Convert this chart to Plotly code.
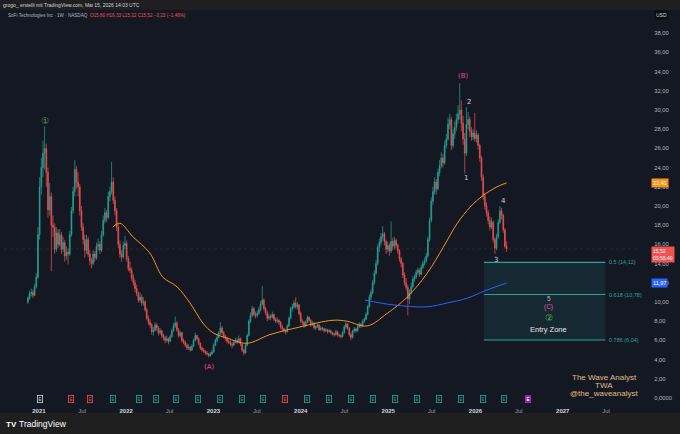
import pandas as pd
import plotly.graph_objects as go

# SOFI weekly candles, first bar = week of 2020-11-16
first_week = '2020-11-16'

opens = [
    10.0, 10.4, 10.9, 11.0, 10.7, 11.6, 12.6, 17.0, 22.0, 24.0,
    25.5, 26.0, 23.5, 19.6, 21.0, 18.0, 17.8, 15.5, 17.2, 16.0,
    17.0, 15.5, 16.2, 14.8, 15.2, 15.0, 17.0, 19.5, 21.5, 23.8,
    22.5, 22.0, 19.5, 17.8, 16.5, 15.4, 16.5, 15.0, 14.3, 14.0,
    15.0, 14.6, 15.8, 16.0, 15.4, 17.0, 18.5, 19.3, 18.8, 21.0,
    21.5, 22.5, 20.6, 19.5, 17.8, 16.0, 15.0, 14.7, 15.9, 16.1,
    14.5, 13.5, 13.3, 12.5, 12.0, 11.4, 10.9, 10.2, 10.5, 9.9,
    10.0, 9.2, 8.3, 7.9, 7.6, 6.9, 7.1, 7.6, 7.3, 6.8,
    7.0, 6.5, 6.3, 6.0, 6.2, 5.9, 6.4, 7.0, 7.5, 7.8,
    7.1, 6.5, 6.8, 6.0, 5.8, 5.5, 5.2, 5.3, 5.0, 5.4,
    6.0, 6.5, 6.2, 5.7, 5.2, 5.0, 4.9, 4.7, 4.6, 4.4,
    4.6, 4.8, 5.5, 6.0, 6.3, 6.8, 7.3, 6.8, 6.4, 6.2,
    5.9, 5.8, 5.6, 5.5, 5.8, 6.0, 5.8, 6.2, 5.6, 5.0,
    4.7, 5.5, 6.5, 8.0, 8.6, 9.3, 8.7, 8.6, 8.8, 9.2,
    9.8, 10.2, 9.3, 8.9, 8.3, 8.5, 8.4, 8.7, 8.2, 8.0,
    8.1, 7.9, 7.4, 7.2, 7.0, 6.9, 7.5, 8.3, 9.3, 9.5,
    9.9, 9.5, 9.7, 8.8, 8.0, 7.9, 7.5, 7.9, 8.4, 8.1,
    7.6, 7.8, 7.3, 7.4, 7.6, 7.1, 7.3, 7.2, 7.0, 7.1,
    6.9, 7.0, 6.8, 6.7, 6.6, 6.9, 6.6, 6.5, 6.4, 6.8,
    7.4, 7.7, 7.3, 6.6, 6.3, 7.0, 7.2, 7.0, 7.4, 7.7,
    7.5, 8.0, 8.2, 8.7, 9.5, 10.5, 11.0, 12.0, 13.0, 14.0,
    15.7, 16.2, 16.8, 17.1, 16.3, 15.5, 15.9, 15.3, 16.3, 15.8,
    16.4, 15.9, 15.3, 14.5, 14.0, 12.8, 12.0, 11.5, 10.3, 11.0,
    11.6, 12.4, 12.6, 13.1, 13.3, 12.9, 13.6, 14.0, 14.3, 14.8,
    16.5, 18.5, 20.5, 21.5, 22.5, 21.8, 23.5, 24.2, 25.0, 24.5,
    26.3, 27.0, 28.5, 29.0, 26.3, 27.5, 28.2, 29.0, 29.6, 30.0,
    28.6, 27.0, 25.5, 28.5, 29.0, 27.8, 27.2, 27.6, 27.0, 27.4,
    26.3, 25.0, 23.0, 21.0, 20.0, 19.3, 18.5, 17.8, 18.3, 16.5,
    15.6, 16.8, 18.3, 19.5, 19.0, 17.5, 15.80,
]
highs = [
    10.6, 11.2, 11.4, 11.3, 11.9, 13.0, 17.8, 23.0, 25.0, 26.8,
    28.3, 26.5, 24.0, 22.4, 21.4, 19.0, 18.2, 17.8, 17.6, 17.6,
    17.3, 16.8, 16.5, 15.8, 15.6, 17.4, 19.9, 22.0, 24.8, 24.2,
    23.5, 22.3, 20.0, 18.2, 17.0, 17.0, 16.8, 15.4, 14.6, 15.4,
    15.3, 16.2, 16.6, 16.3, 17.4, 19.0, 19.8, 19.6, 21.5, 22.0,
    24.6, 23.0, 21.0, 19.8, 18.2, 16.4, 15.4, 16.3, 16.9, 16.4,
    14.8, 14.2, 13.6, 12.9, 12.3, 11.8, 11.1, 11.0, 10.8, 10.5,
    10.2, 9.4, 8.6, 8.2, 7.8, 7.4, 7.9, 7.8, 7.5, 7.3,
    7.1, 6.7, 6.5, 6.5, 6.3, 6.6, 7.2, 7.8, 8.5, 8.0,
    7.3, 7.0, 6.9, 6.2, 6.0, 5.7, 5.6, 5.4, 5.6, 6.2,
    6.8, 6.6, 6.3, 5.8, 5.4, 5.2, 5.0, 4.9, 4.7, 4.8,
    5.0, 5.7, 6.2, 6.6, 7.0, 7.9, 7.5, 7.0, 6.6, 6.4,
    6.1, 6.0, 5.8, 6.0, 6.3, 6.2, 6.5, 6.3, 5.7, 5.1,
    5.7, 6.7, 8.2, 8.9, 9.6, 9.5, 9.0, 9.1, 9.5, 10.1,
    11.7, 10.4, 9.5, 9.1, 8.8, 8.7, 9.0, 8.8, 8.4, 8.4,
    8.2, 8.0, 7.6, 7.3, 7.2, 7.7, 8.5, 9.5, 9.8, 10.2,
    10.5, 10.0, 9.8, 9.0, 8.2, 8.0, 8.1, 8.6, 8.5, 8.2,
    8.0, 7.9, 7.6, 7.8, 7.7, 7.5, 7.4, 7.3, 7.3, 7.2,
    7.2, 7.1, 6.9, 6.8, 7.1, 7.0, 6.7, 6.6, 7.0, 7.6,
    7.9, 7.8, 7.4, 6.8, 7.1, 7.4, 7.3, 7.6, 7.9, 7.8,
    8.2, 8.4, 8.9, 9.7, 10.8, 11.3, 12.3, 13.3, 14.4, 16.0,
    16.6, 17.2, 17.9, 17.3, 16.5, 16.3, 16.1, 18.4, 16.7, 16.8,
    16.6, 16.1, 15.5, 14.7, 14.2, 13.1, 12.5, 11.8, 11.3, 12.0,
    12.7, 12.9, 13.4, 13.6, 13.5, 13.9, 14.3, 14.6, 15.1, 16.8,
    18.8, 20.9, 22.0, 23.0, 22.8, 23.9, 24.8, 25.6, 25.4, 26.8,
    27.5, 29.2, 29.6, 29.3, 28.0, 28.8, 29.6, 30.5, 32.8, 31.0,
    29.4, 27.6, 30.3, 29.8, 29.3, 28.2, 28.0, 29.7, 27.9, 27.6,
    26.5, 25.2, 23.3, 21.4, 20.4, 19.6, 18.9, 18.8, 18.5, 16.7,
    17.1, 18.6, 20.0, 19.8, 19.2, 17.7, 16.33,
]
lows = [
    9.8, 10.2, 10.6, 10.4, 10.6, 11.4, 12.4, 16.5, 21.2, 23.0,
    23.8, 22.0, 18.8, 19.0, 13.2, 16.8, 15.0, 15.2, 15.6, 15.8,
    15.0, 15.2, 14.2, 14.4, 13.9, 14.8, 16.8, 19.2, 21.0, 21.8,
    21.0, 19.0, 17.4, 16.0, 14.6, 15.0, 14.7, 13.8, 13.5, 13.8,
    14.2, 14.4, 15.4, 15.0, 15.2, 16.8, 18.2, 18.3, 18.6, 20.5,
    21.2, 20.2, 19.0, 17.4, 15.6, 14.6, 14.2, 14.5, 15.5, 14.2,
    13.2, 13.0, 12.2, 11.7, 11.0, 10.6, 9.9, 10.0, 9.6, 9.6,
    9.0, 8.1, 7.6, 7.3, 6.6, 6.5, 6.9, 7.0, 6.5, 6.6,
    6.2, 6.0, 5.7, 5.8, 5.6, 5.8, 6.3, 6.9, 7.3, 6.9,
    6.3, 6.3, 5.8, 5.6, 5.3, 5.0, 5.0, 4.8, 4.9, 5.3,
    5.9, 6.0, 5.5, 5.0, 4.8, 4.7, 4.5, 4.4, 4.24, 4.3,
    4.5, 4.7, 5.4, 5.8, 6.2, 6.6, 6.6, 6.2, 6.0, 5.7,
    5.6, 5.4, 5.2, 5.4, 5.7, 5.6, 5.7, 5.4, 4.8, 4.45,
    4.6, 5.4, 6.4, 7.8, 8.4, 8.5, 8.3, 8.4, 8.7, 9.0,
    9.6, 9.1, 8.6, 8.0, 8.1, 8.1, 8.3, 8.0, 7.8, 7.8,
    7.6, 7.2, 7.0, 6.8, 6.6, 6.8, 7.4, 8.2, 9.0, 9.3,
    9.3, 9.2, 8.6, 7.8, 7.6, 7.3, 7.4, 7.8, 7.9, 7.4,
    7.5, 7.1, 7.1, 7.3, 7.0, 7.0, 7.0, 6.8, 6.9, 6.7,
    6.8, 6.6, 6.5, 6.4, 6.5, 6.4, 6.3, 6.2, 6.3, 6.7,
    7.2, 7.1, 6.4, 6.0, 6.2, 6.8, 6.8, 6.9, 7.3, 7.3,
    7.4, 7.8, 8.1, 8.6, 9.4, 10.2, 10.8, 11.8, 12.8, 13.8,
    15.2, 15.9, 16.4, 15.9, 15.0, 15.2, 14.8, 15.1, 15.4, 15.5,
    15.6, 15.0, 14.2, 13.6, 12.5, 11.7, 11.2, 8.6, 9.8, 10.8,
    11.4, 12.1, 12.4, 12.8, 12.6, 12.8, 13.4, 13.8, 14.1, 14.6,
    16.3, 18.3, 20.1, 21.2, 21.2, 21.6, 23.1, 23.9, 24.0, 24.3,
    26.0, 26.8, 28.0, 25.8, 26.0, 27.0, 27.8, 28.6, 29.0, 27.8,
    26.4, 23.4, 25.2, 28.0, 27.2, 26.8, 26.9, 26.7, 26.6, 25.9,
    24.6, 22.6, 20.6, 19.6, 18.9, 18.1, 17.4, 17.6, 16.2, 15.0,
    15.4, 16.6, 18.1, 18.6, 17.2, 15.6, 15.22,
]
closes = [
    10.4, 10.9, 11.0, 10.7, 11.6, 12.6, 17.0, 22.0, 24.0, 25.5,
    26.0, 23.5, 19.6, 21.0, 18.0, 17.8, 15.5, 17.2, 16.0, 17.0,
    15.5, 16.2, 14.8, 15.2, 15.0, 17.0, 19.5, 21.5, 23.8, 22.5,
    22.0, 19.5, 17.8, 16.5, 15.4, 16.5, 15.0, 14.3, 14.0, 15.0,
    14.6, 15.8, 16.0, 15.4, 17.0, 18.5, 19.3, 18.8, 21.0, 21.5,
    22.5, 20.6, 19.5, 17.8, 16.0, 15.0, 14.7, 15.9, 16.1, 14.5,
    13.5, 13.3, 12.5, 12.0, 11.4, 10.9, 10.2, 10.5, 9.9, 10.0,
    9.2, 8.3, 7.9, 7.6, 6.9, 7.1, 7.6, 7.3, 6.8, 7.0,
    6.5, 6.3, 6.0, 6.2, 5.9, 6.4, 7.0, 7.5, 7.8, 7.1,
    6.5, 6.8, 6.0, 5.8, 5.5, 5.2, 5.3, 5.0, 5.4, 6.0,
    6.5, 6.2, 5.7, 5.2, 5.0, 4.9, 4.7, 4.6, 4.4, 4.6,
    4.8, 5.5, 6.0, 6.3, 6.8, 7.3, 6.8, 6.4, 6.2, 5.9,
    5.8, 5.6, 5.5, 5.8, 6.0, 5.8, 6.2, 5.6, 5.0, 4.7,
    5.5, 6.5, 8.0, 8.6, 9.3, 8.7, 8.6, 8.8, 9.2, 9.8,
    10.2, 9.3, 8.9, 8.3, 8.5, 8.4, 8.7, 8.2, 8.0, 8.1,
    7.9, 7.4, 7.2, 7.0, 6.9, 7.5, 8.3, 9.3, 9.5, 9.9,
    9.5, 9.7, 8.8, 8.0, 7.9, 7.5, 7.9, 8.4, 8.1, 7.6,
    7.8, 7.3, 7.4, 7.6, 7.1, 7.3, 7.2, 7.0, 7.1, 6.9,
    7.0, 6.8, 6.7, 6.6, 6.9, 6.6, 6.5, 6.4, 6.8, 7.4,
    7.7, 7.3, 6.6, 6.3, 7.0, 7.2, 7.0, 7.4, 7.7, 7.5,
    8.0, 8.2, 8.7, 9.5, 10.5, 11.0, 12.0, 13.0, 14.0, 15.7,
    16.2, 16.8, 17.1, 16.3, 15.5, 15.9, 15.3, 16.3, 15.8, 16.4,
    15.9, 15.3, 14.5, 14.0, 12.8, 12.0, 11.5, 10.3, 11.0, 11.6,
    12.4, 12.6, 13.1, 13.3, 12.9, 13.6, 14.0, 14.3, 14.8, 16.5,
    18.5, 20.5, 21.5, 22.5, 21.8, 23.5, 24.2, 25.0, 24.5, 26.3,
    27.0, 28.5, 29.0, 26.3, 27.5, 28.2, 29.0, 29.6, 30.0, 28.6,
    27.0, 25.5, 28.5, 29.0, 27.8, 27.2, 27.6, 27.0, 27.4, 26.3,
    25.0, 23.0, 21.0, 20.0, 19.3, 18.5, 17.8, 18.3, 16.5, 15.6,
    16.8, 18.3, 19.5, 19.0, 17.5, 15.8, 15.52,
]

# moving averages (orange = 50 week, blue = 200 week)
ma50_dates = ['2021-11-06', '2021-12-06', '2022-01-29', '2022-04-10', '2022-06-03',
              '2022-08-01', '2022-09-25', '2022-11-18', '2022-12-30', '2023-02-26',
              '2023-05-21', '2023-08-25', '2023-12-29', '2024-05-15', '2024-07-12',
              '2024-10-04', '2024-12-27', '2025-03-21', '2025-06-13', '2025-08-19',
              '2025-10-17', '2025-12-10', '2026-02-02', '2026-04-01', '2026-05-11']
ma50 = [17.8, 18.2, 16.8, 15.1, 12.6, 11.6, 9.9, 7.8, 6.8, 6.25,
        5.7, 6.6, 7.4, 8.1, 8.0, 7.5, 8.8, 10.5, 13.0, 15.7,
        18.2, 19.9, 21.1, 22.0, 22.41]
ma200_dates = ['2024-09-26', '2025-01-21', '2025-06-13', '2025-09-05',
               '2025-11-27', '2026-02-18', '2026-05-11']
ma200 = [10.2, 9.7, 9.5, 9.9, 10.4, 11.25, 11.97]

# fib entry zone
fib_levels = ['0.5', '0.618', '0.786']
fib_prices = [14.12, 10.78, 6.04]
fib_start = '2026-02-05'
fib_end = '2027-06-28'

# earnings markers along the bottom
earn_dates = ['2021-01-04', '2021-05-17', '2021-08-03', '2021-11-05', '2022-02-24',
              '2022-05-05', '2022-07-28', '2022-10-29', '2023-01-28', '2023-04-29',
              '2023-07-28', '2023-10-27', '2024-01-28', '2024-04-29', '2024-07-31',
              '2024-10-28', '2025-01-29', '2025-04-30', '2025-08-01', '2025-10-31',
              '2026-01-31', '2026-05-01', '2026-08-07']
earn_kind = ['split', 'miss', 'miss'] + ['beat'] * 8 + ['miss'] + ['beat'] * 10 + ['next']

# elliott wave labels
wave_dates = ['2021-01-26', '2022-12-17', '2025-11-10', '2025-11-22', '2025-12-05',
              '2026-03-28', '2026-04-26']
wave_prices = [28.9, 3.2, 33.5, 22.9, 30.8, 14.4, 20.5]
wave_texts = ['①', '(A)', '(B)', '1', '2', '3', '4']
wave_kind = ['green', 'pink', 'pink', 'minor', 'minor', 'minor', 'minor']

price_ticks = list(range(0, 40, 2))
price_labels = ['0,0000'] + [f'{v},00' for v in price_ticks[1:]]
time_ticks = []
time_labels = []
for yr in range(2021, 2028):
    time_ticks += [f'{yr}-01-01', f'{yr}-07-01']
    time_labels += [f'<b>{yr}</b>', '<span style="color:#9598a1">Jul</span>']

BG = '#141823'
FRAME = '#1f1f1f'
UP = '#26a69a'
DOWN = '#ef5350'
ORANGE = '#f7931a'
BLUE = '#2962ff'
FIB = '#26a69a'
PINK = '#e0529a'
WAVE_COLORS = {'green': '#4caf50', 'pink': PINK, 'minor': '#d6c8e6'}
EARN_COLORS = {'split': '#d1d4dc', 'miss': DOWN, 'beat': UP, 'next': '#9c27b0'}
FONT = 'Liberation Sans, Arial, sans-serif'

dates = pd.date_range(first_week, periods=len(closes), freq='7D')

fig = go.Figure()

fig.add_trace(go.Candlestick(
    x=dates, open=opens, high=highs, low=lows, close=closes,
    increasing=dict(line=dict(color=UP, width=0.7), fillcolor=UP),
    decreasing=dict(line=dict(color=DOWN, width=0.7), fillcolor=DOWN),
    whiskerwidth=0, showlegend=False, hoverinfo='skip'))

fig.add_trace(go.Scatter(x=pd.to_datetime(ma50_dates), y=ma50, mode='lines',
                         line=dict(color=ORANGE, width=1, shape='spline', smoothing=1),
                         showlegend=False, hoverinfo='skip'))
fig.add_trace(go.Scatter(x=pd.to_datetime(ma200_dates), y=ma200, mode='lines',
                         line=dict(color=BLUE, width=1, shape='spline', smoothing=1),
                         showlegend=False, hoverinfo='skip'))

shapes = []
# panel background over the grey frame
shapes.append(dict(type='rect', xref='paper', yref='paper', x0=-0.01, x1=1.1,
                   y0=-0.0281, y1=1.0, fillcolor=BG, line_width=0, layer='below'))
# last price line
shapes.append(dict(type='line', xref='paper', yref='y', x0=0, x1=1,
                   y0=closes[-1], y1=closes[-1],
                   line=dict(color='rgba(239,83,80,0.28)', width=0.6, dash='dot')))
# fib zone
shapes.append(dict(type='rect', xref='x', yref='y', x0=fib_start, x1=fib_end,
                   y0=fib_prices[-1], y1=fib_prices[0],
                   fillcolor='rgba(38,166,154,0.13)', line_width=0, layer='below'))
for p in fib_prices:
    shapes.append(dict(type='line', xref='x', yref='y', x0=fib_start, x1=fib_end,
                       y0=p, y1=p, line=dict(color=FIB, width=1.2)))

ann = []
for lvl, p in zip(fib_levels, fib_prices):
    ann.append(dict(x=fib_end, y=p, xref='x', yref='y', xanchor='left', xshift=2,
                    text=f'{lvl} ({str(p).replace(".", ",")})', showarrow=False,
                    font=dict(size=5.5, color=FIB)))

for d, p, t, k in zip(wave_dates, wave_prices, wave_texts, wave_kind):
    ann.append(dict(x=d, y=p, xref='x', yref='y', text=t, showarrow=False,
                    font=dict(size=7 if t != '①' else 9, color=WAVE_COLORS[k],
                              family='DejaVu Sans, ' + FONT)))

# target labels in the zone
ann.append(dict(x='2026-11-04', y=10.35, text='5', showarrow=False,
                font=dict(size=6.5, color='#e8a0c8', family=FONT)))
ann.append(dict(x='2026-11-04', y=9.5, text='(C)', showarrow=False,
                font=dict(size=6.5, color=PINK, family=FONT)))
ann.append(dict(x='2026-11-04', y=8.35, text='②', showarrow=False,
                font=dict(size=9, color='#4caf50', family='DejaVu Sans, ' + FONT)))
ann.append(dict(x='2026-11-04', y=7.15, text='Entry Zone', showarrow=False,
                font=dict(size=7.5, color='#e6e6e6', family=FONT)))

for d, k in zip(earn_dates, earn_kind):
    c = EARN_COLORS[k]
    ann.append(dict(x=d, y=-0.1, xref='x', yref='y', text='E', showarrow=False,
                    font=dict(size=4.5, color=c if k != 'next' else '#ffffff', family=FONT),
                    bordercolor=c, borderwidth=0.8, borderpad=0.8,
                    bgcolor='rgba(0,0,0,0)' if k != 'next' else c))

# price scale badges
ann.append(dict(x=1, y=ma50[-1], xref='paper', yref='y', xanchor='left', xshift=11,
                text=f'{ma50[-1]:.2f}'.replace('.', ','), showarrow=False,
                font=dict(size=5.5, color='#ffffff', family=FONT),
                bgcolor=ORANGE, borderpad=1))
ann.append(dict(x=1, y=ma200[-1], xref='paper', yref='y', xanchor='left', xshift=11,
                text=f'{ma200[-1]:.2f}'.replace('.', ','), showarrow=False,
                font=dict(size=5.5, color='#ffffff', family=FONT),
                bgcolor=BLUE, borderpad=1))
ann.append(dict(x=1, y=closes[-1], xref='paper', yref='y', xanchor='left', xshift=11,
                yanchor='top', yshift=3,
                text=f'{closes[-1]:.2f}'.replace('.', ',') + '<br>03:56:40', showarrow=False,
                font=dict(size=5, color='#ffffff', family=FONT),
                bgcolor=DOWN, borderpad=1, align='left'))
ann.append(dict(x=1, y=1, xref='paper', yref='paper', xanchor='left', xshift=14,
                yanchor='middle', yshift=-5, text='USD', showarrow=False,
                font=dict(size=5, color='#d1d4dc', family=FONT),
                bgcolor='#0b0d12', borderpad=1))

# header
ann.append(dict(x=0, y=1, xref='paper', yref='paper', xanchor='left', yanchor='middle',
                xshift=-3, yshift=5, showarrow=False,
                text='grogo_ erstellt mit TradingView.com, Mai 15, 2026 14:03 UTC',
                font=dict(size=5, color='#d1d4dc', family=FONT)))
ann.append(dict(x=0, y=1, xref='paper', yref='paper', xanchor='left', yanchor='middle',
                xshift=2, yshift=-5, showarrow=False,
                text='SoFi Technologies Inc · 1W · NASDAQ  '
                     '<span style="color:#ef5350">O15,80 H16,33 L15,22 C15,52 −0,23 (−1,46%)</span>',
                font=dict(size=4.6, color='#b2b5be', family=FONT)))

# watermark
for txt, ys in zip(['The Wave Analyst', 'TWA', '@the_waveanalyst'], [-25, -17, -9]):
    ann.append(dict(x=0.9434, y=0, xref='paper', yref='paper', xanchor='center',
                    yanchor='middle', yshift=-ys, text=txt, showarrow=False,
                    font=dict(size=8, color='#e0bd82', family=FONT)))

# footer logo
ann.append(dict(x=0, y=0, xref='paper', yref='paper', xanchor='left', yanchor='middle',
                xshift=0, yshift=-22, text='<b>TV</b>', showarrow=False,
                font=dict(size=8, color='#ffffff', family=FONT)))
ann.append(dict(x=0, y=0, xref='paper', yref='paper', xanchor='left', yanchor='middle',
                xshift=13, yshift=-22, text='TradingView', showarrow=False,
                font=dict(size=8.5, color='#ffffff', family=FONT)))

fig.update_layout(
    width=680, height=434, autosize=False,
    margin=dict(l=4, r=40, t=10, b=32),
    paper_bgcolor=FRAME, plot_bgcolor=BG,
    showlegend=False,
    shapes=shapes, annotations=ann,
    font=dict(family=FONT),
    xaxis=dict(range=['2020-08-08', '2027-11-20'], tickvals=time_ticks, ticktext=time_labels,
               showgrid=False, zeroline=False, showline=False,
               ticks='outside', ticklen=3, tickcolor=BG,
               tickfont=dict(size=6, color='#d1d4dc'),
               rangeslider=dict(visible=False), fixedrange=True),
    yaxis=dict(range=[-0.4167, 40.417], side='right', tickvals=price_ticks, ticktext=price_labels,
               showgrid=False, zeroline=False, showline=False,
               ticks='outside', ticklen=12, tickcolor=BG,
               tickfont=dict(size=5.8, color='#b2b5be'), fixedrange=True),
)

# the page gets photographed at 680x434, drop the default body margin
fig.write_html("out.html", config={'displayModeBar': False},
               post_script="document.body.style.margin='0';document.body.style.overflow='hidden';")
